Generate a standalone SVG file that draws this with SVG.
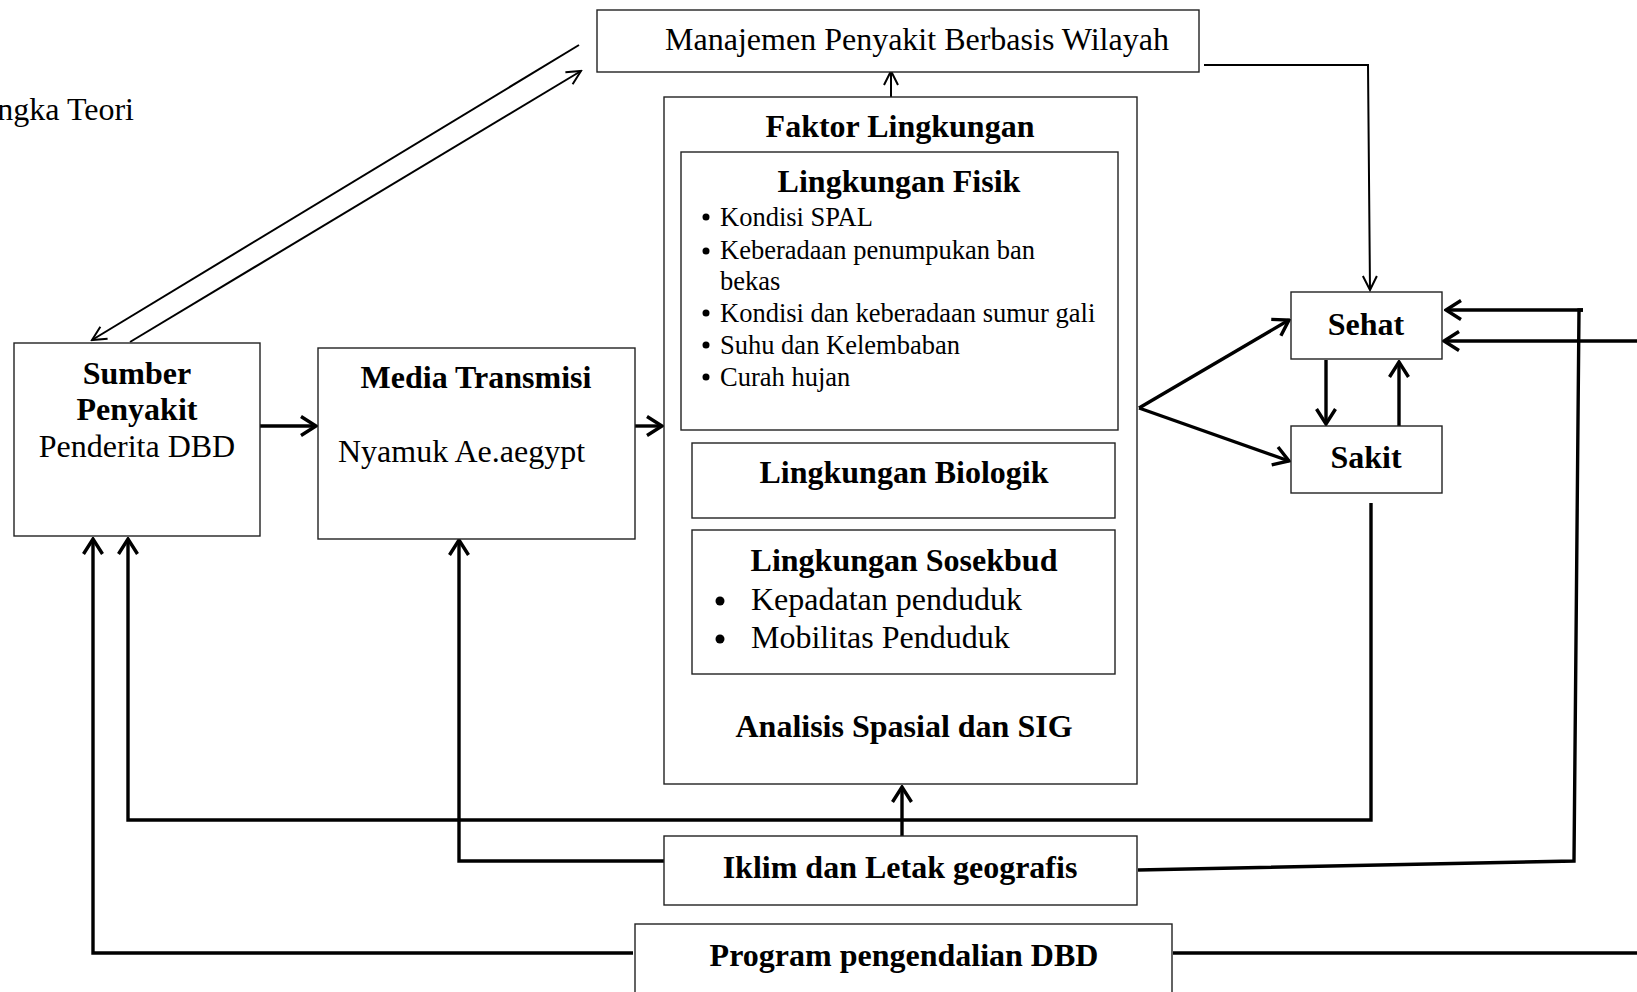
<svg xmlns="http://www.w3.org/2000/svg" width="1637" height="992" viewBox="0 0 1637 992">
  <style>
    .box { fill: #fff; stroke: #222; stroke-width: 1.4; }
    .t { font-family: "Liberation Serif", "Times New Roman", serif; fill: #000; font-size: 32px; }
    .b { font-weight: bold; }
    .mid { text-anchor: middle; }
    .sm { font-size: 26.5px; }
    .thick { fill: none; stroke: #000; stroke-width: 3.4; }
    .thin { fill: none; stroke: #000; stroke-width: 2; }
  </style>
  <defs>
    <marker id="ah-thick" markerUnits="userSpaceOnUse" viewBox="-18 -12 20 24" refX="0" refY="0" markerWidth="20" markerHeight="24" orient="auto">
      <path d="M-15,-9.5 L0,0 L-15,9.5" fill="none" stroke="#000" stroke-width="3.4"/>
    </marker>
    <marker id="ah-thin" markerUnits="userSpaceOnUse" viewBox="-16 -10 18 20" refX="0" refY="0" markerWidth="18" markerHeight="20" orient="auto">
      <path d="M-14,-7 L0,0 L-14,7" fill="none" stroke="#000" stroke-width="2"/>
    </marker>
  </defs>

  <rect width="1637" height="992" fill="#fff"/>

  <text class="t" x="134" y="120" text-anchor="end">ngka Teori</text>

  <!-- connectors -->
  <g id="connectors">
    <!-- Manajemen <-> Sumber Penyakit -->
    <line class="thin" x1="579" y1="45" x2="92" y2="340" marker-end="url(#ah-thin)"/>
    <line class="thin" x1="130" y1="342" x2="581" y2="71" marker-end="url(#ah-thin)"/>
    <!-- Sumber -> Media -> Faktor -->
    <line class="thick" x1="260" y1="426" x2="316" y2="426" marker-end="url(#ah-thick)"/>
    <line class="thick" x1="635" y1="426" x2="662" y2="426" marker-end="url(#ah-thick)"/>
    <!-- Faktor -> Manajemen -->
    <line class="thin" x1="891" y1="97" x2="891" y2="71" marker-end="url(#ah-thin)"/>
    <!-- Manajemen -> Sehat -->
    <polyline class="thin" points="1204,65 1368,65 1370,290" marker-end="url(#ah-thin)"/>
    <!-- Faktor -> Sehat / Sakit -->
    <line class="thick" x1="1139" y1="408" x2="1289" y2="320" marker-end="url(#ah-thick)"/>
    <line class="thick" x1="1139" y1="408" x2="1289" y2="461" marker-end="url(#ah-thick)"/>
    <!-- Sehat <-> Sakit -->
    <line class="thick" x1="1326" y1="360" x2="1326" y2="424" marker-end="url(#ah-thick)"/>
    <line class="thick" x1="1399" y1="426" x2="1399" y2="362" marker-end="url(#ah-thick)"/>
    <!-- Iklim -> Sehat -->
    <polyline class="thick" points="1138,870 1574,861 1579,310 1583,310"/>
    <line class="thick" x1="1583" y1="310" x2="1446" y2="310" marker-end="url(#ah-thick)"/>
    <!-- Program -> Sehat -->
    <line class="thick" x1="1637" y1="341" x2="1444" y2="341" marker-end="url(#ah-thick)"/>
    <line class="thick" x1="1173" y1="953" x2="1637" y2="953"/>
    <!-- Sakit -> Sumber -->
    <polyline class="thick" points="1371,503 1371,820 128,820 128,539" marker-end="url(#ah-thick)"/>
    <!-- Iklim -> Faktor -->
    <line class="thick" x1="902" y1="836" x2="902" y2="787" marker-end="url(#ah-thick)"/>
    <!-- Iklim -> Media -->
    <polyline class="thick" points="664,861 459,861 459,540" marker-end="url(#ah-thick)"/>
    <!-- Program -> Sumber -->
    <polyline class="thick" points="633,953 93,953 93,539" marker-end="url(#ah-thick)"/>
  </g>

  <g id="manajemen">
    <rect class="box" x="597" y="10" width="602" height="62"/>
    <text class="t mid" x="917" y="50">Manajemen Penyakit Berbasis Wilayah</text>
  </g>

  <g id="sumber">
    <rect class="box" x="14" y="343" width="246" height="193"/>
    <text class="t b mid" x="137" y="384">Sumber</text>
    <text class="t b mid" x="137" y="420">Penyakit</text>
    <text class="t mid" x="137" y="457">Penderita DBD</text>
  </g>

  <g id="media">
    <rect class="box" x="318" y="348" width="317" height="191"/>
    <text class="t b mid" x="476" y="388">Media Transmisi</text>
    <text class="t" x="338" y="462">Nyamuk Ae.aegypt</text>
  </g>

  <g id="faktor">
    <rect class="box" x="664" y="97" width="473" height="687"/>
    <text class="t b mid" x="900" y="137">Faktor Lingkungan</text>
    <text class="t b mid" x="904" y="737">Analisis Spasial dan SIG</text>
  </g>

  <g id="fisik">
    <rect class="box" x="681" y="152" width="437" height="278"/>
    <text class="t b mid" x="899" y="192">Lingkungan Fisik</text>
    <g class="t sm">
      <circle cx="706" cy="217" r="3.5"/>
      <text x="720" y="226">Kondisi SPAL</text>
      <circle cx="706" cy="251" r="3.5"/>
      <text x="720" y="259">Keberadaan penumpukan ban</text>
      <text x="720" y="290">bekas</text>
      <circle cx="706" cy="313" r="3.5"/>
      <text x="720" y="322">Kondisi dan keberadaan sumur gali</text>
      <circle cx="706" cy="345" r="3.5"/>
      <text x="720" y="354">Suhu dan Kelembaban</text>
      <circle cx="706" cy="377" r="3.5"/>
      <text x="720" y="386">Curah hujan</text>
    </g>
  </g>

  <g id="biologik">
    <rect class="box" x="692" y="443" width="423" height="75"/>
    <text class="t b mid" x="904" y="483">Lingkungan Biologik</text>
  </g>

  <g id="sosekbud">
    <rect class="box" x="692" y="530" width="423" height="144"/>
    <text class="t b mid" x="904" y="571">Lingkungan Sosekbud</text>
    <circle cx="720" cy="601" r="4.5"/>
    <text class="t" x="751" y="610">Kepadatan penduduk</text>
    <circle cx="720" cy="639" r="4.5"/>
    <text class="t" x="751" y="648">Mobilitas Penduduk</text>
  </g>

  <g id="sehat">
    <rect class="box" x="1291" y="292" width="151" height="67"/>
    <text class="t b mid" x="1366" y="335">Sehat</text>
  </g>

  <g id="sakit">
    <rect class="box" x="1291" y="426" width="151" height="67"/>
    <text class="t b mid" x="1366" y="468">Sakit</text>
  </g>

  <g id="iklim">
    <rect class="box" x="664" y="836" width="473" height="69"/>
    <text class="t b mid" x="900" y="878">Iklim dan Letak geografis</text>
  </g>

  <g id="program">
    <rect class="box" x="635" y="924" width="537" height="72"/>
    <text class="t b mid" x="904" y="966">Program pengendalian DBD</text>
  </g>
</svg>
